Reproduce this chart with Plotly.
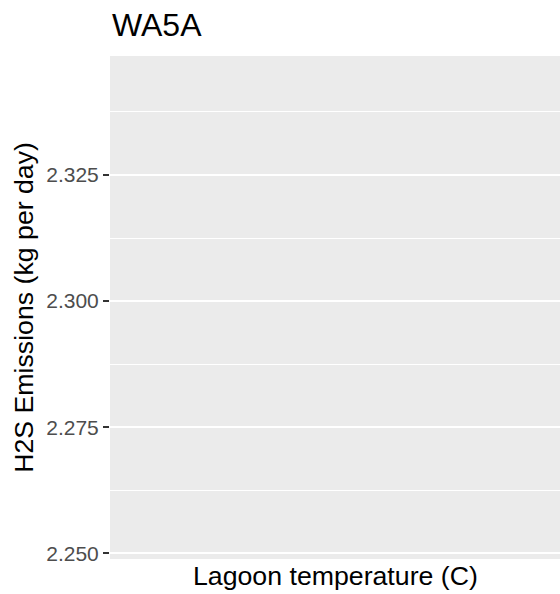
import plotly.graph_objects as go

# Data (the reference panel shows no visible marks)
lagoon_temperature = []
h2s_emissions = []
y_tick_values = [2.250, 2.275, 2.300, 2.325]
y_tick_labels = ["2.250", "2.275", "2.300", "2.325"]
y_range = [2.24887, 2.34859]
panel_title = "WA5A"
x_title = "Lagoon temperature (C)"
y_title = "H2S Emissions (kg per day)"

FONT = "Liberation Sans, Arial, sans-serif"

fig = go.Figure()
fig.add_trace(go.Scatter(x=lagoon_temperature, y=h2s_emissions, mode="markers",
                         marker=dict(color="black"), showlegend=False))

W, H = 560, 594
L, R, T, B = 110, 0, 56, 35
ph = H - T - B
pw = W - L - R

fig.update_layout(
    width=W, height=H,
    margin=dict(l=L, r=R, t=T, b=B, pad=0),
    paper_bgcolor="white",
    plot_bgcolor="#EBEBEB",
    font=dict(family=FONT, color="black"),
    xaxis=dict(showticklabels=False, ticks="", showgrid=False, zeroline=False,
               showline=False, range=[0, 1], fixedrange=True),
    yaxis=dict(range=y_range, tickvals=y_tick_values, ticktext=y_tick_labels,
               ticks="outside", ticklen=6, tickwidth=1.6, tickcolor="#333333",
               tickfont=dict(family=FONT, size=21, color="#4D4D4D"),
               showgrid=True, gridcolor="white", gridwidth=2,
               zeroline=False, showline=False,
               minor=dict(tickvals=[2.2625, 2.2875, 2.3125, 2.3375], showgrid=True,
                          gridcolor="white", gridwidth=1, ticks="")),
    annotations=[
        dict(text=panel_title, xref="paper", yref="paper", x=0, y=1 + (T - 24.7) / ph,
             xanchor="left", yanchor="middle", showarrow=False,
             font=dict(family=FONT, size=32, color="black")),
        dict(text=x_title, xref="paper", yref="paper", x=0.5, y=-(575.5 - (H - B)) / ph,
             xanchor="center", yanchor="middle", showarrow=False,
             font=dict(family=FONT, size=26.7, color="black")),
        dict(text=y_title, xref="paper", yref="paper", x=(23.3 - L) / pw, y=0.5,
             xanchor="center", yanchor="middle", showarrow=False, textangle=-90,
             font=dict(family=FONT, size=26.7, color="black")),
    ],
)

fig.write_html("out.html", config={"displayModeBar": False},
               post_script="document.body.style.margin='0';document.body.style.overflow='hidden';")
